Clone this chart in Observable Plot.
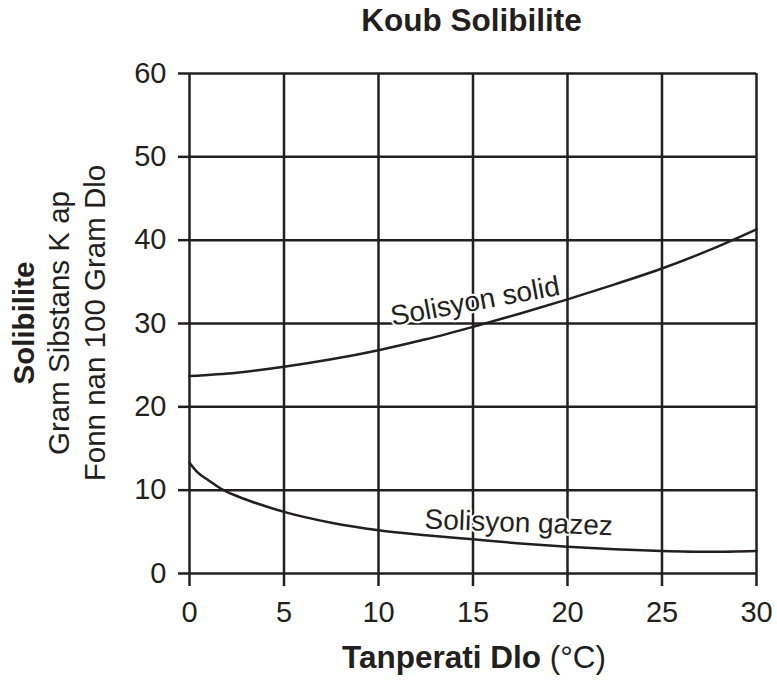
<!DOCTYPE html>
<html>
<head>
<meta charset="utf-8">
<script src="https://cdn.jsdelivr.net/npm/d3@7"></script>
<script src="https://cdn.jsdelivr.net/npm/@observablehq/plot@0.6"></script>
<style>
  html, body { margin: 0; padding: 0; background: #fff; }
</style>
</head>
<body>
<div id="chart"></div>
<script>
// Data
const xTicks = [0, 5, 10, 15, 20, 25, 30];
const yTicks = [0, 10, 20, 30, 40, 50, 60];

const solidTemps = [0, 2.5, 5, 7.5, 10, 12.5, 15, 17.5, 20, 22.5, 25, 27.5, 30];
const solidVals  = [23.7, 24.1, 24.8, 25.7, 26.8, 28.1, 29.6, 31.2, 32.9, 34.7, 36.6, 38.8, 41.3];

const gasTemps = [0, 0.4, 1, 1.8, 2.5, 3.2, 5, 7.5, 10, 12.5, 15, 17.5, 20, 22.5, 25, 27.5, 30];
const gasVals  = [13.3, 12.2, 11.2, 10.0, 9.3, 8.7, 7.4, 6.1, 5.2, 4.6, 4.1, 3.6, 3.2, 2.9, 2.7, 2.6, 2.7];

const labelNames = ["Solisyon solid", "Solisyon gazez"];
const labelX = [15.2, 17.4];
const labelY = [31.6, 5.0];
const labelAngle = [-10.5, 2];

const title = "Koub Solibilite";
const xLabelBold = "Tanperati Dlo";
const xLabelUnit = " (°C)";
const yLabelLines = ["Solibilite", "Gram Sibstans K ap", "Fonn nan 100 Gram Dlo"];

const ink = "#231f20";
const font = "'Liberation Sans', Arial, Helvetica, sans-serif";

const solid = solidTemps.map((t, i) => ({t, v: solidVals[i]}));
const gas = gasTemps.map((t, i) => ({t, v: gasVals[i]}));
const labels = labelNames.map((name, i) => ({name, x: labelX[i], y: labelY[i], a: labelAngle[i]}));

const chart = Plot.plot({
  width: 777,
  height: 682,
  marginTop: 73,
  marginBottom: 109,
  marginLeft: 189,
  marginRight: 21,
  style: {fontFamily: font, color: ink, background: "#fff", overflow: "visible"},
  x: {domain: [0, 30], ticks: xTicks, label: null},
  y: {domain: [0, 60], ticks: yTicks, label: null},
  marks: [
    Plot.ruleX(xTicks, {stroke: ink, strokeWidth: 2.5}),
    Plot.ruleY(yTicks, {stroke: ink, strokeWidth: 2.5}),
    Plot.axisX({ticks: xTicks, tickSize: 13, tickPadding: 15, strokeWidth: 2.5, fontSize: 29, label: null, stroke: ink, fill: ink}),
    Plot.axisY({ticks: yTicks, tickSize: 11, tickPadding: 12, strokeWidth: 2.5, fontSize: 29, label: null, stroke: ink, fill: ink}),
    Plot.line(solid, {x: "t", y: "v", stroke: ink, strokeWidth: 2.5, curve: "monotone-x"}),
    Plot.line(gas, {x: "t", y: "v", stroke: ink, strokeWidth: 2.5, curve: "monotone-x"}),
    ...labels.map(l => Plot.text([l], {x: "x", y: "y", text: "name", rotate: l.a, fontSize: 28, lineAnchor: "bottom", textAnchor: "middle", fill: ink, stroke: "white", strokeWidth: 4, paintOrder: "stroke"}))
  ]
});

const svg = d3.select(chart);
svg.append("text")
  .attr("x", 471.5).attr("y", 31)
  .attr("text-anchor", "middle")
  .attr("font-family", font).attr("font-size", 31.5).attr("font-weight", "bold")
  .attr("fill", ink)
  .text(title);

const xl = svg.append("text")
  .attr("x", 474).attr("y", 668)
  .attr("text-anchor", "middle")
  .attr("font-family", font).attr("font-size", 31.5)
  .attr("fill", ink);
xl.append("tspan").attr("font-weight", "bold").text(xLabelBold);
xl.append("tspan").text(xLabelUnit);

const yBase = [34, 69, 105];
yLabelLines.forEach((line, i) => {
  svg.append("text")
    .attr("transform", `translate(${yBase[i]},323) rotate(-90)`)
    .attr("text-anchor", "middle")
    .attr("font-family", font).attr("font-size", 29.5)
    .attr("font-weight", i === 0 ? "bold" : "normal")
    .attr("fill", ink)
    .text(line);
});

document.getElementById("chart").appendChild(chart);
</script>
</body>
</html>
